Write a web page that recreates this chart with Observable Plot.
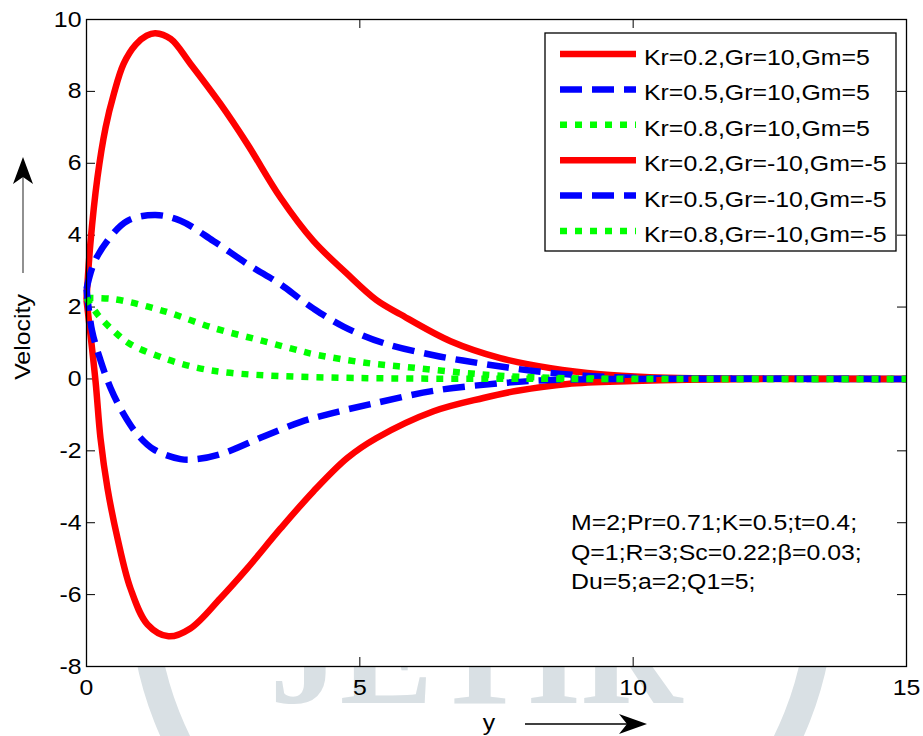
<!DOCTYPE html>
<html><head><meta charset="utf-8">
<script src="https://cdn.jsdelivr.net/npm/d3@7"></script>
<script src="https://cdn.jsdelivr.net/npm/@observablehq/plot@0.6"></script>
<style>body{margin:0;background:#fff} #chart{width:923px;height:736px}</style>
</head><body><div id="chart"></div>
<script>
// ---- data ----
const xTicks = [0, 5, 10, 15];
const yTicks = [-8, -6, -4, -2, 0, 2, 4, 6, 8, 10];
const seriesLabels = [
  "Kr=0.2,Gr=10,Gm=5", "Kr=0.5,Gr=10,Gm=5", "Kr=0.8,Gr=10,Gm=5",
  "Kr=0.2,Gr=-10,Gm=-5", "Kr=0.5,Gr=-10,Gm=-5", "Kr=0.8,Gr=-10,Gm=-5"
];
const seriesColors = ["#ff0000", "#0000ff", "#00ff00", "#ff0000", "#0000ff", "#00ff00"];
const seriesDash = ["none", "22,10", "7,8", "none", "22,10", "7,8"];
const annotationLines = ["M=2;Pr=0.71;K=0.5;t=0.4;", "Q=1;R=3;Sc=0.22;\u03b2=0.03;", "Du=5;a=2;Q1=5;"];
const xLabel = "y";
const yLabel = "Velocity";
const watermarkText = "JETIR";

// Kr=0.2, Gr=10, Gm=5
const y1 = [0, 0.07, 0.2, 0.35, 0.5, 0.68, 0.9, 1.1, 1.26, 1.54, 1.9, 2.45, 2.94, 3.55, 4.15, 4.75, 5.3, 5.74, 6.66, 7.57, 8.49, 9.4, 10.3, 11.2, 12.5, 15];
const v1 = [2.2, 3.75, 5.6, 7.0, 7.93, 8.77, 9.3, 9.55, 9.62, 9.46, 8.77, 7.65, 6.54, 5.04, 3.84, 2.95, 2.2, 1.8, 1.05, 0.58, 0.3, 0.13, 0.05, 0.02, 0.005, 0];
// Kr=0.5, Gr=10, Gm=5
const y2 = [0, 0.13, 0.38, 0.75, 1.26, 1.72, 2.32, 2.94, 3.55, 3.91, 4.16, 4.71, 5.43, 6.35, 7.26, 8.18, 9.1, 10, 11, 15];
const v2 = [2.5, 3.2, 3.84, 4.4, 4.56, 4.4, 3.84, 3.2, 2.63, 2.22, 1.95, 1.45, 1.0, 0.66, 0.42, 0.22, 0.09, 0.03, 0.01, 0];
// Kr=0.8, Gr=10, Gm=5
const y3 = [0, 0.5, 1.41, 2.32, 3.24, 3.91, 4.15, 5.1, 6.0, 6.9, 7.57, 8.5, 10, 15];
const v3 = [2.25, 2.22, 1.89, 1.42, 1.05, 0.78, 0.69, 0.45, 0.31, 0.17, 0.09, 0.03, 0.005, 0];
// Kr=0.2, Gr=-10, Gm=-5
const y4 = [0, 0.165, 0.256, 0.384, 0.567, 0.805, 1.116, 1.5, 1.9, 2.45, 2.94, 3.55, 4.15, 4.77, 5.3, 6.35, 7.26, 7.88, 8.8, 10, 11, 12.5, 15];
const v4 = [2.2, -0.06, -1.65, -3.04, -4.43, -5.83, -6.83, -7.16, -6.94, -6.1, -5.27, -4.16, -3.13, -2.2, -1.65, -0.9, -0.53, -0.33, -0.14, -0.06, -0.02, 0, 0];
// Kr=0.5, Gr=-10, Gm=-5
const y5 = [0, 0.1, 0.26, 0.44, 0.68, 0.93, 1.23, 1.72, 2.03, 2.5, 3.24, 3.91, 4.5, 5.2, 6.35, 7.57, 8.5, 10, 15];
const v5 = [2.5, 1.35, 0.5, -0.25, -0.98, -1.54, -1.96, -2.23, -2.23, -2.07, -1.6, -1.2, -0.95, -0.7, -0.33, -0.12, -0.03, 0, 0];
// Kr=0.8, Gr=-10, Gm=-5
const y6 = [0, 0.2, 0.5, 0.8, 1.41, 2.03, 2.63, 3.55, 4.77, 6, 15];
const v6 = [2.25, 1.8, 1.33, 0.97, 0.58, 0.31, 0.17, 0.08, 0.03, 0.01, 0];

const seriesY = [y1, y2, y3, y4, y5, y6];
const seriesV = [v1, v2, v3, v4, v5, v6];
const rows = seriesLabels.flatMap((s, i) => seriesY[i].map((y, j) => ({series: s, idx: i, y, v: seriesV[i][j]})));

// ---- layout ----
const W = 923, H = 736, mL = 86, mR = 17, mT = 19, mB = 70;
const fw = W - mL - mR, fh = H - mT - mB;
const tk = 9;
const FONT = "'Liberation Sans', Arial, Helvetica, sans-serif";

const lineMarks = seriesLabels.map((s, i) => Plot.line(rows.filter(d => d.idx === i), {
  x: "y", y: "v", stroke: seriesColors[i], strokeWidth: 6.5,
  strokeDasharray: seriesDash[i], strokeLinecap: "butt", strokeLinejoin: "round",
  curve: "catmull-rom"
}));

const svg = Plot.plot({
  width: W, height: H, marginLeft: mL, marginRight: mR, marginTop: mT, marginBottom: mB,
  style: {background: "transparent", fontFamily: FONT, fontSize: "22px", color: "#000", overflow: "visible"},
  x: {domain: [0, 15]},
  y: {domain: [-8, 10]},
  marks: [
    Plot.frame({fill: "white", stroke: "none"}),
    Plot.tickX(xTicks, {x: d => d, insetTop: fh - tk, stroke: "#000"}),
    Plot.tickX(xTicks, {x: d => d, insetBottom: fh - tk, stroke: "#000"}),
    Plot.tickY(yTicks, {y: d => d, insetRight: fw - tk, stroke: "#000"}),
    Plot.tickY(yTicks, {y: d => d, insetLeft: fw - tk, stroke: "#000"}),
    ...lineMarks,
    Plot.frame({stroke: "#000", strokeWidth: 1.3}),
    Plot.axisX(xTicks, {tickSize: 0, tickPadding: 13, tickFormat: d => String(d), label: null, fontSize: 22}),
    Plot.axisY(yTicks, {tickSize: 0, tickPadding: 5, tickFormat: d => String(d), label: null, fontSize: 22})
  ]
});
document.getElementById("chart").appendChild(svg);

const root = d3.select(svg);

// watermark (background, covered by the white plot area)
const wm = root.insert("g", ":first-child").attr("class", "wm");
wm.append("circle").attr("cx", 482).attr("cy", 592).attr("r", 339)
  .attr("fill", "none").attr("stroke", "#d9e0e4").attr("stroke-width", 27);
wm.append("text").text(watermarkText).attr("x", 476).attr("y", 703).attr("text-anchor", "middle")
  .attr("font-family", "'Liberation Serif', 'DejaVu Serif', serif").attr("font-weight", "bold")
  .attr("font-size", 140).attr("fill", "#d9e0e4");

// legend
const lg = root.append("g").attr("font-family", FONT).attr("font-size", 22).attr("text-anchor", "start");
lg.append("rect").attr("x", 545).attr("y", 33).attr("width", 351).attr("height", 218)
  .attr("fill", "white").attr("stroke", "#000").attr("stroke-width", 1.3);
seriesLabels.forEach((s, i) => {
  const base = 65 + i * 35.4;
  lg.append("line").attr("x1", 560).attr("x2", 636).attr("y1", base - 11).attr("y2", base - 11)
    .attr("stroke", seriesColors[i]).attr("stroke-width", 6.5)
    .attr("stroke-dasharray", seriesDash[i]);
  lg.append("text").attr("x", 644).attr("y", base).attr("fill", "#000").attr("text-anchor", "start").text(s);
});

// annotation
const an = root.append("g").attr("font-family", FONT).attr("font-size", 22).attr("text-anchor", "start");
annotationLines.forEach((t, i) => {
  an.append("text").attr("x", 571).attr("y", 530 + i * 29.5).attr("fill", "#000").attr("text-anchor", "start").text(t);
});

// axis labels with arrows
const lab = root.append("g").attr("font-family", FONT).attr("font-size", 22);
lab.append("text").attr("transform", "translate(30,337) rotate(-90)").attr("text-anchor", "middle").text(yLabel);
lab.append("line").attr("x1", 23).attr("x2", 23).attr("y1", 273).attr("y2", 175).attr("stroke", "#555").attr("stroke-width", 1.3);
lab.append("path").attr("d", "M23,157 L33,184 L23,177 L13,184 Z").attr("fill", "#000");
lab.append("text").attr("x", 489).attr("y", 730).attr("text-anchor", "middle").text(xLabel);
lab.append("line").attr("x1", 525).attr("x2", 630).attr("y1", 724).attr("y2", 724).attr("stroke", "#000").attr("stroke-width", 1.3);
lab.append("path").attr("d", "M647,724 L619,714 L627,724 L619,734 Z").attr("fill", "#000");

// widen text horizontally to match the reference's broad sans rendering
root.selectAll("text").filter(function () { return !this.closest(".wm"); }).each(function () {
  const L = this.getComputedTextLength();
  if (L > 0) {
    this.setAttribute("textLength", (L * 1.13).toFixed(1));
    this.setAttribute("lengthAdjust", "spacingAndGlyphs");
  }
});
</script></body></html>
